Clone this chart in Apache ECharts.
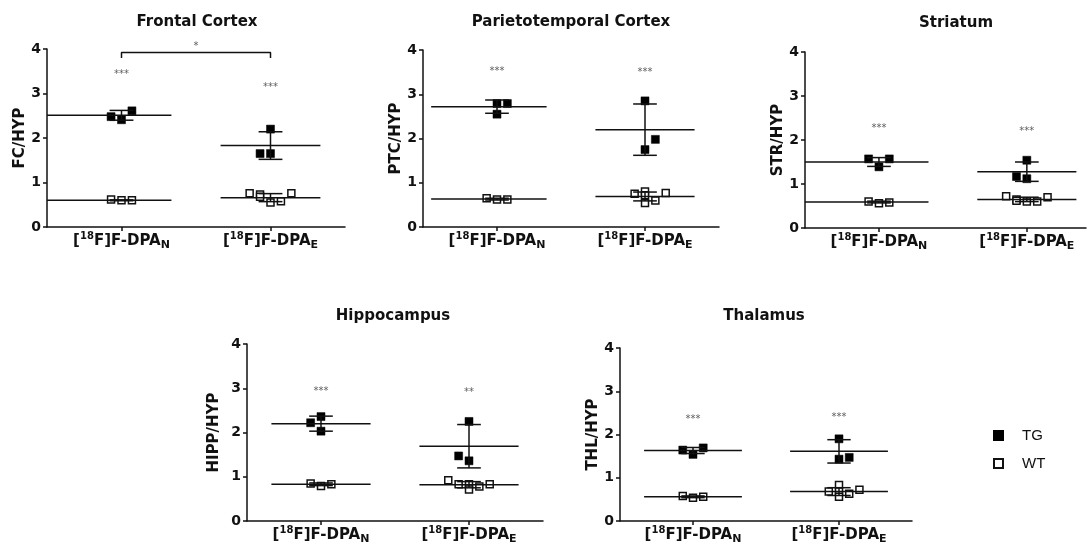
<!DOCTYPE html>
<html>
<head>
<meta charset="utf-8">
<script src="https://cdn.jsdelivr.net/npm/echarts@6/dist/echarts.min.js"></script>
<style>
  html, body { margin: 0; background: #fff; }
  #chart { width: 1092px; height: 548px; }
</style>
</head>
<body>
<div id="chart"></div>
<script>
var titles = ['Frontal Cortex', 'Parietotemporal Cortex', 'Striatum', 'Hippocampus', 'Thalamus'];
var yNames = ['FC/HYP', 'PTC/HYP', 'STR/HYP', 'HIPP/HYP', 'THL/HYP'];
var groupSubs = ['N', 'E'];
var legendNames = ['TG', 'WT'];

// points per panel: [jitter column, value]
var tgN = [
  [[-1, 2.48], [0, 2.41], [1, 2.61]],
  [[0, 2.79], [1, 2.79], [0, 2.55]],
  [[-1, 1.57], [0, 1.39], [1, 1.57]],
  [[-1, 2.22], [0, 2.36], [0, 2.03]],
  [[-1, 1.64], [0, 1.54], [1, 1.69]]
];
var wtN = [
  [[-1, 0.62], [0, 0.60], [1, 0.60]],
  [[-1, 0.65], [0, 0.62], [1, 0.62]],
  [[-1, 0.60], [0, 0.56], [1, 0.58]],
  [[-1, 0.85], [0, 0.79], [1, 0.83]],
  [[-1, 0.58], [0, 0.54], [1, 0.56]]
];
var tgE = [
  [[0, 2.20], [-1, 1.65], [0, 1.65]],
  [[0, 2.85], [1, 1.98], [0, 1.75]],
  [[0, 1.54], [-1, 1.17], [0, 1.12]],
  [[0, 2.25], [-1, 1.47], [0, 1.36]],
  [[0, 1.90], [0, 1.43], [1, 1.47]]
];
var wtE = [
  [[-2, 0.76], [-1, 0.73], [-1, 0.68], [0, 0.55], [1, 0.58], [2, 0.76]],
  [[-1, 0.75], [0, 0.80], [0, 0.72], [0, 0.54], [1, 0.60], [2, 0.77]],
  [[-2, 0.72], [-1, 0.65], [-1, 0.62], [0, 0.60], [1, 0.60], [2, 0.70]],
  [[-2, 0.92], [-1, 0.83], [0, 0.83], [0, 0.71], [1, 0.78], [2, 0.83]],
  [[-1, 0.68], [0, 0.83], [0, 0.68], [0, 0.56], [1, 0.63], [2, 0.72]]
];

// mean and SD as drawn
var tgNMean = [2.51, 2.72, 1.50, 2.20, 1.63];
var tgNSd   = [0.11, 0.15, 0.10, 0.17, 0.07];
var wtNMean = [0.60, 0.63, 0.59, 0.83, 0.56];
var wtNSd   = [0.01, 0.02, 0.02, 0.03, 0.02];
var tgEMean = [1.83, 2.20, 1.28, 1.69, 1.61];
var tgESd   = [0.31, 0.58, 0.22, 0.49, 0.27];
var wtEMean = [0.66, 0.69, 0.65, 0.82, 0.68];
var wtESd   = [0.09, 0.10, 0.05, 0.07, 0.09];

// significance marks
var starsN  = ['***', '***', '***', '***', '***'];
var starsNY = [3.44, 3.51, 2.27, 2.93, 2.36];
var starsE  = ['***', '***', '***', '**', '***'];
var starsEY = [3.14, 3.49, 2.20, 2.91, 2.40];
var bracketMark = '*';
var bracketTop = 3.92, bracketFoot = 3.80, bracketMarkY = 4.05;

var INK = '#111';
var FONT = 'DejaVu Sans';
var JIT = 0.07, MEAN_HALF = 0.335, CAP_HALF = 0.08;

var panels = [
  { left: 47,  top: 49,  width: 298, height: 178, xMax: 2.5, nLeft: 0.5,   gap: 18, tx: 192, ty: 10 },
  { left: 423, top: 50,  width: 296, height: 177, xMax: 2.5, nLeft: 0.555, gap: 17, tx: 566, ty: 10 },
  { left: 805, top: 52,  width: 281, height: 176, xMax: 2.4, nLeft: 0.5,   gap: 19, tx: 951, ty: 11 },
  { left: 247, top: 344, width: 296, height: 177, xMax: 2.5, nLeft: null,  gap: 25, tx: 388, ty: 304 },
  { left: 620, top: 348, width: 292, height: 173, xMax: 2.5, nLeft: null,  gap: 19, tx: 759, ty: 304 }
];

function pts(list, c) {
  return list.map(function (d) { return [c + d[0] * JIT, d[1]]; });
}

function meanSd(nLeft) {
  return function (params, api) {
    var c = api.value(0), m = api.value(1), s = api.value(2);
    var x0 = (c === 1 && nLeft != null) ? nLeft : c - MEAN_HALF;
    var a = api.coord([x0, m]), b = api.coord([c + MEAN_HALF, m]);
    var hi = api.coord([c, m + s]), lo = api.coord([c, m - s]);
    var cl = api.coord([c - CAP_HALF, m])[0], cr = api.coord([c + CAP_HALF, m])[0];
    var st = { stroke: INK, lineWidth: 1.5 };
    return {
      type: 'group',
      children: [
        { type: 'line', shape: { x1: a[0], y1: a[1], x2: b[0], y2: b[1] }, style: st },
        { type: 'line', shape: { x1: hi[0], y1: hi[1], x2: lo[0], y2: lo[1] }, style: st },
        { type: 'line', shape: { x1: cl, y1: hi[1], x2: cr, y2: hi[1] }, style: st },
        { type: 'line', shape: { x1: cl, y1: lo[1], x2: cr, y2: lo[1] }, style: st }
      ]
    };
  };
}

var option = {
  animation: false,
  backgroundColor: '#fff',
  title: [],
  grid: [],
  xAxis: [],
  yAxis: [],
  legend: {
    data: legendNames,
    orient: 'vertical',
    left: 988,
    top: 423,
    itemWidth: 9,
    itemHeight: 9,
    itemGap: 13,
    textStyle: { fontFamily: 'Liberation Sans', fontSize: 15, color: INK, padding: [0, 0, 0, 14] }
  },
  series: []
};

panels.forEach(function (g, i) {
  option.title.push({
    text: titles[i], left: g.tx, top: g.ty, textAlign: 'center',
    textStyle: { fontFamily: FONT, fontSize: 15, fontWeight: 'bold', color: INK }
  });
  option.grid.push({ left: g.left, top: g.top, width: g.width, height: g.height });
  option.xAxis.push({
    type: 'value', gridIndex: i, min: 0.5, max: g.xMax,
    splitLine: { show: false },
    axisLine: { lineStyle: { color: INK, width: 1.5 } },
    axisTick: { customValues: [1, 2], length: 4, lineStyle: { color: INK, width: 1.5 } },
    axisLabel: {
      customValues: [1, 2], margin: 4,
      fontFamily: FONT, fontSize: 15, fontWeight: 'bold', color: INK, lineHeight: 20,
      formatter: function (v) { return '[{sup|18}F]F-DPA{sub|' + groupSubs[v - 1] + '}'; },
      rich: {
        sup: { fontFamily: FONT, fontSize: 10, fontWeight: 'bold', color: INK, lineHeight: 12, verticalAlign: 'top' },
        sub: { fontFamily: FONT, fontSize: 11, fontWeight: 'bold', color: INK, lineHeight: 12, verticalAlign: 'bottom' }
      }
    }
  });
  option.yAxis.push({
    type: 'value', gridIndex: i, min: 0, max: 4, interval: 1,
    name: yNames[i], nameLocation: 'middle', nameGap: g.gap,
    nameTextStyle: { fontFamily: FONT, fontSize: 15, fontWeight: 'bold', color: INK },
    splitLine: { show: false },
    axisLine: { show: true, lineStyle: { color: INK, width: 1.5 } },
    axisTick: { show: true, length: 4, lineStyle: { color: INK, width: 1.5 } },
    axisLabel: { margin: 6, fontFamily: FONT, fontSize: 14, fontWeight: 'bold', color: INK }
  });

  option.series.push({
    type: 'custom', name: 'mean', xAxisIndex: i, yAxisIndex: i, z: 3, clip: false,
    silent: true, encode: { x: 0, y: 1 },
    renderItem: meanSd(g.nLeft),
    data: [
      [1, tgNMean[i], tgNSd[i]], [1, wtNMean[i], wtNSd[i]],
      [2, tgEMean[i], tgESd[i]], [2, wtEMean[i], wtESd[i]]
    ]
  });
  option.series.push({
    type: 'scatter', name: 'TG', xAxisIndex: i, yAxisIndex: i, z: 2, silent: true,
    symbol: 'rect', symbolSize: 8,
    itemStyle: { color: '#000', borderColor: '#000', borderWidth: 0.5, opacity: 1 },
    data: pts(tgN[i], 1).concat(pts(tgE[i], 2))
  });
  option.series.push({
    type: 'scatter', name: 'WT', xAxisIndex: i, yAxisIndex: i, z: 2, silent: true,
    symbol: 'rect', symbolSize: 7,
    itemStyle: { color: '#fff', borderColor: INK, borderWidth: 1.5, opacity: 1 },
    data: pts(wtN[i], 1).concat(pts(wtE[i], 2))
  });
  option.series.push({
    type: 'scatter', name: 'stars', xAxisIndex: i, yAxisIndex: i, z: 4, silent: true, clip: false,
    symbolSize: 1, itemStyle: { color: 'rgba(0,0,0,0)' },
    label: { show: true, position: 'inside', formatter: '{b}', fontFamily: FONT, fontSize: 10, color: '#333' },
    data: [
      { name: starsN[i], value: [1, starsNY[i]] },
      { name: starsE[i], value: [2, starsEY[i]] }
    ].concat(i === 0 ? [{ name: bracketMark, value: [1.5, bracketMarkY] }] : [])
  });
});

option.series.push({
  type: 'line', name: 'bracket', xAxisIndex: 0, yAxisIndex: 0, silent: true,
  showSymbol: false, symbol: 'none', clip: false,
  lineStyle: { color: INK, width: 1.5 },
  data: [[1, bracketFoot], [1, bracketTop], [2, bracketTop], [2, bracketFoot]]
});

var chart = echarts.init(document.getElementById('chart'));
chart.setOption(option);
</script>
</body>
</html>
